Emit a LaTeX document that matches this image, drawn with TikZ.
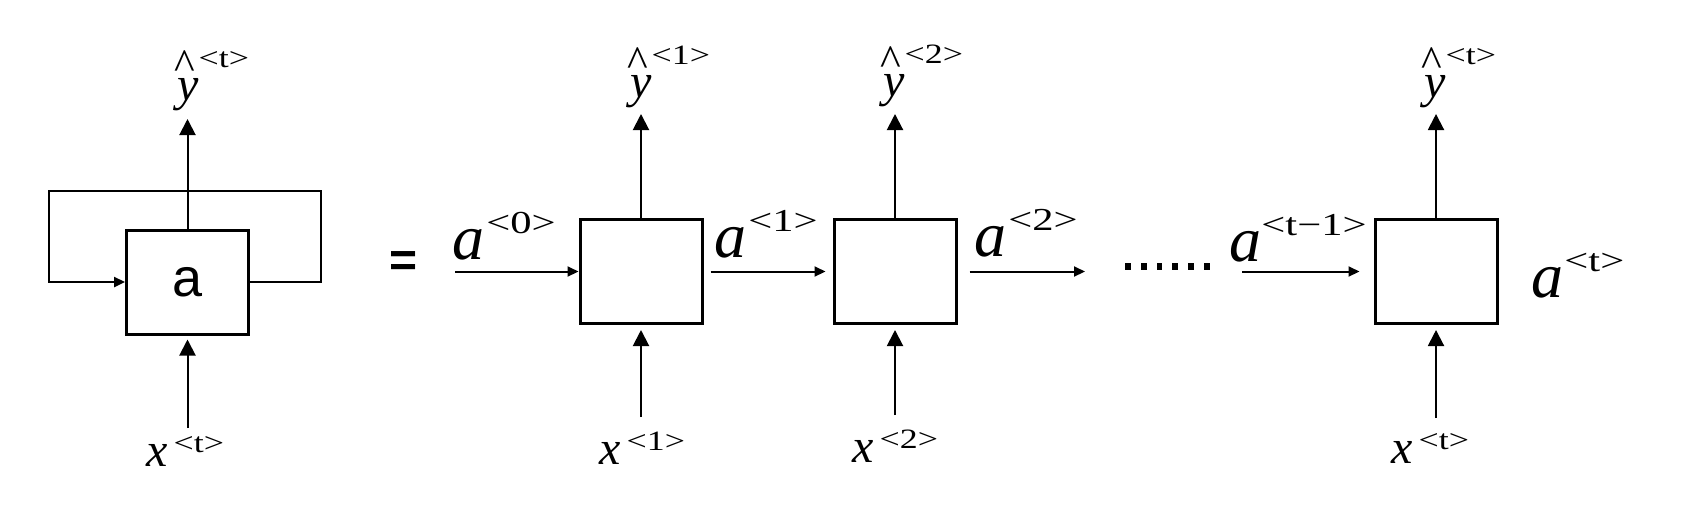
\documentclass[tikz,border=0pt]{standalone}
\usepackage{fontspec}
\usepackage{graphicx}
\setmainfont{Liberation Serif}
\newfontfamily\arialf{Liberation Sans}
\usetikzlibrary{arrows.meta}

\newcommand{\supA}[1]{\raisebox{13pt}{\fontsize{16}{16}\selectfont\scalebox{1.33}[1]{#1}}}
\newcommand{\supX}[1]{\raisebox{7pt}{\fontsize{14}{14}\selectfont\scalebox{1.28}[1]{#1}}}
\newcommand{\lblA}[2][1pt]{{\fontsize{32}{32}\selectfont\itshape a}\kern#1\supA{#2}}
\newcommand{\lblX}[1]{{\fontsize{24}{24}\selectfont\itshape x}\kern3pt\supX{#1}}
\newcommand{\lblY}[1]{\rlap{\kern-1.4pt\raisebox{10.5pt}{\fontsize{22}{22}\selectfont\textasciicircum}}{\fontsize{24}{24}\selectfont\itshape y}\raisebox{16.5pt}{\fontsize{14}{14}\selectfont\scalebox{1.28}[1]{#1}}}

\tikzset{
  cell/.style={draw, line width=1.5pt, minimum width=61pt, minimum height=52pt, inner sep=0pt},
  varr/.style={line width=1pt, -{Triangle[length=8pt,width=8pt]}},
  harr/.style={line width=1pt, -{Triangle[length=5.5pt,width=5pt]}},
  lbl/.style={inner sep=0pt, anchor=base west},
}

\begin{document}
\begin{tikzpicture}[x=0.5pt,y=-0.5pt]
\useasboundingbox (0,0) rectangle (1696,526);

% ---------- folded RNN ----------
\node[cell, font=\arialf\fontsize{27}{27}\selectfont] (A) at (187.5,282) {a};
\coordinate (LT) at (49,191);
\coordinate (RT) at (321,191);
\draw[harr, line width=1.2pt] (A.east) -| (RT) -- (LT) |- (A.west);
\coordinate (YA) at (187.5,119);
\coordinate (XA) at (187.5,428);
\draw[varr] (A.north) -- (YA);
\draw[varr, shorten >=2pt] (XA) -- (A.south);
\node[lbl] (yA) at (177,100) {\lblY{<t>}};
\node[lbl] (xA) at (146,466) {\lblX{<t>}};

\node[inner sep=0pt, anchor=base west, font=\arialf\bfseries\fontsize{24}{24}\selectfont] (eq) at (389,276) {=};

% ---------- unrolled RNN ----------
\node[cell] (B1) at (641,271.5) {};
\node[cell] (B2) at (895,271.5) {};
\node[cell] (B3) at (1436,271.5) {};

\coordinate (A0s) at (455,271.5);
\coordinate (A2e) at (1085,271.5);
\coordinate (A3s) at (1242,271.5);
\draw[harr] (A0s) -- (B1.west);
\draw[harr, shorten <=3.5pt, shorten >=3.5pt] (B1.east) -- (B2.west);
\draw[harr, shorten <=6pt] (B2.east) -- (A2e);
\draw[harr, shorten >=7pt] (A3s) -- (B3.west);

\foreach \i in {0,...,5} \fill ({1125+15.8*\i},263.3) rectangle ++(5.8,6.7);

\coordinate (Y1) at (641,114);
\coordinate (Y2) at (895,114);
\coordinate (Y3) at (1436,114);
\coordinate (X1) at (641,417);
\coordinate (X2) at (895,415);
\coordinate (X3) at (1436,418);
\draw[varr] (B1.north) -- (Y1);
\draw[varr] (B2.north) -- (Y2);
\draw[varr] (B3.north) -- (Y3);
\draw[varr, shorten >=2.5pt] (X1) -- (B1.south);
\draw[varr, shorten >=2.5pt] (X2) -- (B2.south);
\draw[varr, shorten >=2.5pt] (X3) -- (B3.south);

\node[lbl] (a0) at (452,259) {\lblA{<0>}};
\node[lbl] (a1) at (714,257) {\lblA{<1>}};
\node[lbl] (a2) at (974,256) {\lblA{<2>}};
\node[lbl] (a3) at (1229,261) {\lblA[0pt]{<t−1>}};
\node[lbl] (a4) at (1531,297) {\lblA[0.5pt]{<t>}};

\node[lbl] (y1) at (630,97) {\lblY{<1>}};
\node[lbl] (y2) at (883,96) {\lblY{<2>}};
\node[lbl] (y3) at (1424,97) {\lblY{<t>}};

\node[lbl] (x1) at (599,464) {\lblX{<1>}};
\node[lbl] (x2) at (852,462) {\lblX{<2>}};
\node[lbl] (x3) at (1391,463) {\lblX{<t>}};
\end{tikzpicture}
\end{document}
